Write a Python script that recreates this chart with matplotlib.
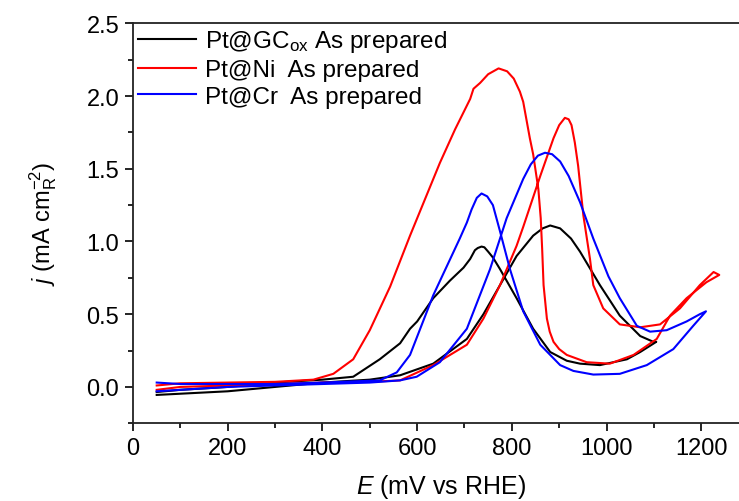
import matplotlib
matplotlib.use('Agg')
import matplotlib.pyplot as plt
from matplotlib.ticker import MultipleLocator

plt.rcParams['font.family'] = ['Liberation Sans', 'DejaVu Sans']
plt.rcParams['mathtext.fontset'] = 'custom'
plt.rcParams['mathtext.rm'] = 'Liberation Sans'
plt.rcParams['mathtext.it'] = 'Liberation Sans:italic'

# Pt@GCox: forward sweep then backward sweep (E in mV, j in mA cm-2)
gc_E = [50, 200, 300, 400, 500, 564, 634, 705, 740, 775, 810, 845, 865, 881, 902, 925, 944, 986, 1028, 1071, 1099, 1105,
        1071, 1043, 986, 944, 916, 881, 845, 810, 775, 760, 750, 742, 736, 728, 722, 712, 698, 669, 634, 600, 585, 564, 521,
        465, 400, 300, 200, 100, 50]
gc_j = [-0.055, -0.03, 0.0, 0.03, 0.05, 0.08, 0.16, 0.33, 0.50, 0.70, 0.90, 1.04, 1.09, 1.11, 1.09, 1.02, 0.93, 0.70, 0.49, 0.35, 0.31, 0.31,
        0.24, 0.19, 0.15, 0.16, 0.18, 0.24, 0.40, 0.61, 0.81, 0.89, 0.93, 0.96, 0.965, 0.955, 0.94, 0.88, 0.82, 0.73, 0.61, 0.45, 0.40, 0.30, 0.19,
        0.07, 0.05, 0.03, 0.0, -0.02, -0.035]

# Pt@Ni
ni_E = [50, 100, 200, 300, 400, 500, 564, 634, 705, 740, 775, 810, 824, 860, 888, 900, 912, 920, 926, 933, 940, 951, 965, 972,
        993, 1028, 1071, 1113, 1155, 1197, 1226, 1238,
        1211, 1169, 1134, 1106, 1057, 1007, 958, 916, 900, 888, 880, 874, 867, 864, 861, 856, 845, 838, 824, 817, 804, 790,
        772, 750, 733, 719, 712, 680, 648,
        585, 543, 500, 465, 423, 381, 300, 200, 100, 50]
ni_j = [-0.02, 0.0, 0.01, 0.02, 0.03, 0.035, 0.045, 0.15, 0.29, 0.47, 0.70, 0.97, 1.10, 1.45, 1.71, 1.80, 1.85, 1.84, 1.80, 1.68, 1.52, 1.18, 0.88, 0.70,
        0.54, 0.43, 0.41, 0.43, 0.54, 0.70, 0.79, 0.77,
        0.72, 0.61, 0.49, 0.33, 0.22, 0.16, 0.17, 0.22, 0.26, 0.31, 0.38, 0.47, 0.70, 0.95, 1.16, 1.36, 1.60, 1.71, 1.96, 2.03, 2.12, 2.17,
        2.19, 2.15, 2.09, 2.05, 1.98, 1.77, 1.54,
        1.04, 0.69, 0.39, 0.19, 0.09, 0.05, 0.035, 0.03, 0.025, 0.01]

# Pt@Cr
cr_E = [50, 100, 200, 300, 400, 500, 564, 599, 648, 705, 754, 789, 824, 840, 855, 870, 885, 902, 920, 944, 972, 1004, 1028, 1064,
        1092, 1127, 1169, 1197, 1210,
        1183, 1141, 1085, 1028, 972, 930, 902, 860, 824, 796, 775, 760, 748, 736, 726, 715, 705, 690, 634, 585, 564, 557,
        521, 400, 300, 200, 100, 50]
cr_j = [-0.03, -0.02, 0.0, 0.01, 0.02, 0.03, 0.045, 0.07, 0.17, 0.40, 0.81, 1.16, 1.43, 1.53, 1.59, 1.61, 1.60, 1.55, 1.45, 1.27, 1.02, 0.76, 0.61, 0.42,
        0.38, 0.39, 0.45, 0.50, 0.52,
        0.42, 0.26, 0.15, 0.09, 0.085, 0.11, 0.15, 0.29, 0.52, 0.81, 1.07, 1.25, 1.31, 1.33, 1.30, 1.22, 1.13, 1.02, 0.63, 0.22, 0.13, 0.10,
        0.045, 0.03, 0.02, 0.02, 0.02, 0.03]

labels = [r'Pt@GC$_{\rm ox}$ As prepared', 'Pt@Ni  As prepared', 'Pt@Cr  As prepared']

fig = plt.figure(figsize=(7.39, 5.02), dpi=100)
ax = fig.add_axes([0.18, 0.1548, 0.833, 0.7968])

ax.plot(gc_E, gc_j, color='black', lw=1.5, label=labels[0])
ax.plot(ni_E, ni_j, color='red', lw=1.5, label=labels[1])
ax.plot(cr_E, cr_j, color='blue', lw=1.5, label=labels[2])

ax.set_xlim(0, 1300)
ax.set_ylim(-0.25, 2.5)
ax.xaxis.set_major_locator(MultipleLocator(200))
ax.xaxis.set_minor_locator(MultipleLocator(100))
ax.yaxis.set_major_locator(MultipleLocator(0.5))
ax.yaxis.set_minor_locator(MultipleLocator(0.25))
ax.yaxis.set_major_formatter(matplotlib.ticker.FormatStrFormatter('%.1f'))

ax.tick_params(which='both', direction='out', width=1.2, labelsize=17, pad=4, top=False, right=False)
ax.tick_params(which='major', length=6)
ax.tick_params(which='minor', length=3.5)
for s in ax.spines.values():
    s.set_linewidth(1.3)
    s.set_color('#222222')

ax.set_xlabel(r'$E$ (mV vs RHE)', fontsize=18, labelpad=9)
ax.set_ylabel(r'$j$ (mA cm$_{\rm R}^{-2}$)', fontsize=17, labelpad=20)

ax.legend(loc='upper left', frameon=False, fontsize=17.5, handlelength=2.4, handletextpad=0.35,
          labelspacing=0.2, borderaxespad=0.1, borderpad=0.1)

fig.savefig('out.png', dpi=100)
